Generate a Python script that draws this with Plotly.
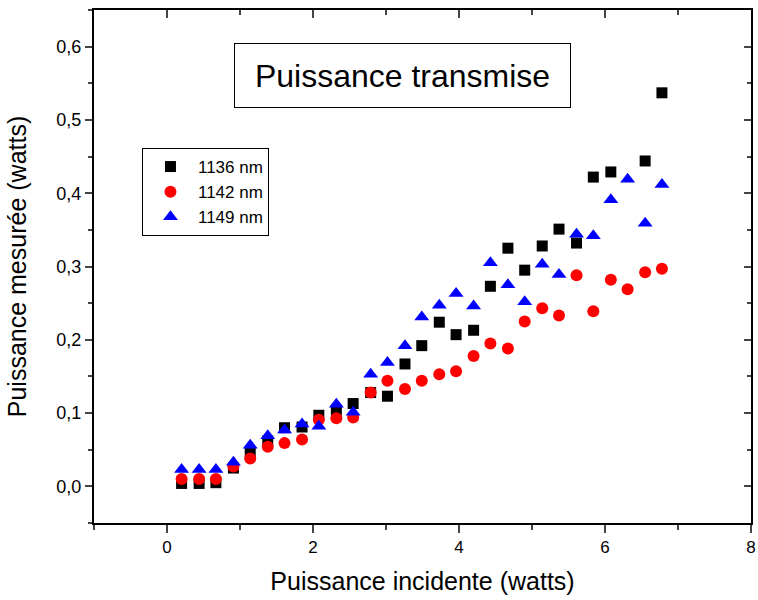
import plotly.graph_objects as go

x_incident = [0.20, 0.44, 0.67, 0.91, 1.14, 1.38, 1.61, 1.85, 2.08, 2.32, 2.55, 2.79, 3.02, 3.26, 3.49,
              3.73, 3.96, 4.20, 4.43, 4.67, 4.90, 5.14, 5.37, 5.61, 5.84, 6.08, 6.31, 6.55, 6.78]
p_1136 = [0.004, 0.004, 0.005, 0.025, 0.046, 0.062, 0.080, 0.081, 0.097, 0.104, 0.113, 0.128, 0.123, 0.167, 0.192,
          0.224, 0.207, 0.213, 0.273, 0.325, 0.295, 0.328, 0.351, 0.332, 0.422, 0.429, None, 0.444, 0.537]
p_1142 = [0.010, 0.010, 0.010, 0.027, 0.038, 0.054, 0.059, 0.064, 0.091, 0.093, 0.094, 0.128, 0.144, 0.133, 0.144,
          0.153, 0.157, 0.178, 0.195, 0.188, 0.225, 0.243, 0.233, 0.288, 0.239, 0.282, 0.269, 0.292, 0.297]
p_1149 = [0.023, 0.023, 0.023, 0.033, 0.056, 0.069, 0.077, 0.085, 0.082, 0.112, 0.101, 0.153, 0.169, 0.192, 0.231,
          0.247, 0.263, 0.246, 0.305, 0.275, 0.252, 0.303, 0.289, 0.344, 0.342, 0.391, 0.419, 0.359, 0.412]
series_names = ["1136 nm", "1142 nm", "1149 nm"]

FONT = "Liberation Sans, Arial, sans-serif"

fig = go.Figure()
fig.add_trace(go.Scatter(x=x_incident, y=p_1136, mode="markers", name=series_names[0],
                         marker=dict(symbol="square", size=11, color="black")))
fig.add_trace(go.Scatter(x=x_incident, y=p_1142, mode="markers", name=series_names[1],
                         marker=dict(symbol="circle", size=12, color="red")))
fig.add_trace(go.Scatter(x=x_incident, y=p_1149, mode="markers", name=series_names[2],
                         marker=dict(symbol="triangle-up", size=13, color="blue")))

xr = [-1, 8]
yr = [-0.05, 0.65]

fig.update_layout(
    width=758, height=600,
    margin=dict(l=94, r=7, t=10, b=77),
    plot_bgcolor="white", paper_bgcolor="white",
    separators=", ",
    font=dict(family=FONT, color="black", size=18),
    showlegend=True,
    legend=dict(x=0.073, y=0.731, xanchor="left", yanchor="top",
                bordercolor="black", borderwidth=1, bgcolor="white",
                itemwidth=45,
                font=dict(size=17, family=FONT)),
    xaxis=dict(range=xr, dtick=2, tick0=0, ticks="outside", ticklen=8, tickwidth=2,
               showline=True, linewidth=2, linecolor="black", mirror=True,
               showgrid=False, zeroline=False, automargin=False,
               minor=dict(dtick=1, ticks="outside", ticklen=5, tickwidth=2, showgrid=False),
               title=dict(text="Puissance incidente (watts)", font=dict(size=25), standoff=16),
               tickfont=dict(size=17)),
    yaxis=dict(range=yr, dtick=0.1, tick0=0, tickformat=".1f", ticks="outside", ticklen=7, tickwidth=2,
               showline=True, linewidth=2, linecolor="black", mirror=True,
               showgrid=False, zeroline=False, automargin=False,
               minor=dict(dtick=0.05, ticks="outside", ticklen=4, tickwidth=2, showgrid=False),
               title=dict(text="Puissance mesurée (watts)", font=dict(size=25), standoff=23),
               tickfont=dict(size=18)),
    xaxis2=dict(range=xr, overlaying="x", side="top", dtick=2, tick0=0, ticks="inside", ticklen=8,
                tickwidth=2, showticklabels=False, showgrid=False, zeroline=False, showline=False,
                automargin=False,
                minor=dict(dtick=1, ticks="inside", ticklen=5, tickwidth=2, showgrid=False)),
    yaxis2=dict(range=yr, overlaying="y", side="right", dtick=0.1, tick0=0, ticks="inside", ticklen=7,
                tickwidth=2, showticklabels=False, showgrid=False, zeroline=False, showline=False,
                automargin=False,
                minor=dict(dtick=0.05, ticks="inside", ticklen=4, tickwidth=2, showgrid=False)),
)

# invisible trace to anchor the mirrored (inside-tick) axes
fig.add_trace(go.Scatter(x=[None], y=[None], xaxis="x2", yaxis="y2", showlegend=False, hoverinfo="skip"))

fig.add_annotation(text="Puissance transmise", xref="paper", yref="paper", x=0.4696, y=0.872,
                   xanchor="center", yanchor="middle", showarrow=False,
                   font=dict(size=32, family=FONT, color="black"),
                   bordercolor="black", borderwidth=1, width=333, height=61, bgcolor="white")

fig.write_html("out.html", config={"displayModeBar": False},
               post_script="document.body.style.margin='0';document.body.style.overflow='hidden';")
